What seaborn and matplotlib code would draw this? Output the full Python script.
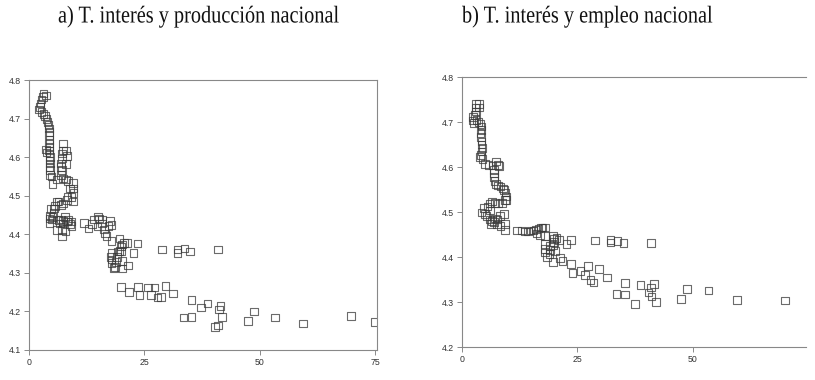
import matplotlib
matplotlib.use("Agg")
import matplotlib.pyplot as plt
import seaborn as sns
import pandas as pd
from matplotlib.patheffects import AbstractPathEffect
from matplotlib.transforms import Affine2D

# a) interest rate vs national production (log)
prod_x = [3.1, 3.7, 3.0, 2.7, 2.5, 2.4, 2.2, 2.7, 3.1, 3.5, 3.8, 4.0, 4.2,
          4.3, 4.4, 4.3, 4.4, 4.3, 4.4, 4.3, 4.4, 4.5, 4.4, 4.5, 4.4, 4.5, 4.5, 4.9,
          3.7, 3.8, 5.1, 6.1,
          7.3, 7.4, 8.0, 7.2, 8.2, 7.1, 6.9, 8.0, 6.9, 7.1, 6.9, 7.4, 8.0, 8.5,
          8.9, 9.5, 9.5, 9.6, 9.2, 9.5, 8.3, 8.2, 7.4, 6.9, 6.4, 6.0, 5.6, 5.4,
          5.3, 4.7, 4.6, 4.4, 4.9, 5.1, 4.4, 6.4, 6.7, 6.1, 7.1, 7.1, 7.9, 7.4,
          7.8, 7.4, 8.2, 8.5, 9.1, 9.2, 8.9, 6.9,
          11.9, 12.9, 13.6, 14.1, 15.0, 15.2, 14.8, 15.8, 15.8, 16.3, 16.5, 16.8,
          17.2, 17.6, 17.9, 17.9,
          17.9, 17.7, 17.9, 17.9, 18.3, 18.6, 18.9, 19.0, 19.2, 19.6, 19.9, 19.6,
          20.1, 20.6, 21.2, 19.9, 20.1, 20.2, 21.4, 22.6, 23.5,
          28.8, 32.2, 32.2, 33.7, 34.9, 40.9,
          19.9, 21.7, 23.6, 23.9, 25.8, 26.4, 27.2, 27.8, 28.6, 29.6, 31.2, 33.5,
          35.2, 35.2, 37.3, 38.7, 40.3, 41.0, 41.2, 41.5, 41.8, 47.4, 48.7, 53.3,
          59.3, 69.7, 75.0]
prod_y = [4.765, 4.760, 4.757, 4.750, 4.740, 4.730, 4.724, 4.718, 4.713, 4.707, 4.700, 4.692, 4.683,
          4.675, 4.666, 4.657, 4.645, 4.636, 4.627, 4.618, 4.610, 4.600, 4.592, 4.584, 4.575, 4.567, 4.554, 4.550,
          4.620, 4.612, 4.530, 4.542,
          4.636, 4.618, 4.618, 4.610, 4.603, 4.597, 4.584, 4.582, 4.575, 4.567, 4.554, 4.545, 4.542, 4.539,
          4.519, 4.534, 4.519, 4.508, 4.497, 4.485, 4.497, 4.489, 4.480, 4.476, 4.485, 4.485, 4.473, 4.467,
          4.456, 4.465, 4.447, 4.441, 4.439, 4.445, 4.430, 4.437, 4.428, 4.411, 4.394, 4.411, 4.407, 4.428,
          4.445, 4.435, 4.433, 4.437, 4.433, 4.422, 4.427, 4.439,
          4.430, 4.415, 4.427, 4.439, 4.446, 4.441, 4.420, 4.439, 4.428, 4.413, 4.402, 4.396,
          4.421, 4.435, 4.424, 4.383,
          4.352, 4.342, 4.335, 4.326, 4.312, 4.316, 4.329, 4.342, 4.355, 4.357, 4.368, 4.389,
          4.374, 4.378, 4.378, 4.355, 4.331, 4.311, 4.319, 4.352, 4.376,
          4.361, 4.361, 4.352, 4.363, 4.355, 4.361,
          4.264, 4.250, 4.263, 4.242, 4.262, 4.242, 4.262, 4.236, 4.238, 4.266, 4.247, 4.184,
          4.230, 4.185, 4.210, 4.221, 4.159, 4.164, 4.205, 4.214, 4.186, 4.175, 4.200, 4.184,
          4.169, 4.188, 4.173]

# b) interest rate vs national employment (log)
emp_x = [3.1, 3.7, 3.0, 3.7, 3.1, 2.9, 2.5, 2.5, 2.7, 3.2, 3.6, 4.1, 4.3, 4.3, 4.1,
         4.2, 4.3, 4.3, 4.5, 4.3, 4.2, 4.0, 4.5, 5.0, 5.8, 6.7, 7.4, 7.8, 8.1, 7.0,
         7.0, 7.0, 7.1, 7.4, 7.9, 8.4, 8.9, 9.2, 9.5, 9.6, 9.7, 9.4, 8.7, 7.9, 7.2,
         6.5, 6.0, 5.6, 4.8, 4.3, 5.0, 6.1, 5.4, 6.1, 6.5, 7.2, 7.7, 8.3, 9.2, 9.4,
         9.4, 8.4, 7.6, 7.0, 6.3,
         11.9, 13.0, 13.7, 14.4, 14.9, 15.5, 16.1, 16.6, 17.1, 17.5, 18.0, 16.2, 16.9, 18.0,
         18.0, 18.0, 18.0, 18.4, 19.0, 19.1, 19.1, 19.8, 20.0, 19.7, 20.0, 20.5, 21.1, 20.2,
         19.8, 21.3, 21.8, 22.7, 23.6, 23.6, 24.0, 25.7, 26.7, 27.3, 27.9, 28.5, 29.7, 31.4,
         28.8, 32.2, 32.2, 33.7, 35.0, 40.9,
         33.5, 35.3, 35.3, 37.5, 38.7, 40.4, 40.9, 41.1, 41.6, 42.0, 47.4, 48.8, 53.4,
         59.5, 69.9]
emp_y = [4.740, 4.740, 4.733, 4.733, 4.724, 4.716, 4.711, 4.704, 4.698, 4.705, 4.701, 4.696, 4.690, 4.683, 4.676,
         4.667, 4.657, 4.650, 4.642, 4.635, 4.627, 4.622, 4.618, 4.607, 4.605, 4.604, 4.613, 4.605, 4.603, 4.594,
         4.587, 4.578, 4.570, 4.563, 4.559, 4.557, 4.553, 4.550, 4.544, 4.535, 4.527, 4.527, 4.521, 4.519, 4.521,
         4.524, 4.519, 4.513, 4.509, 4.499, 4.496, 4.504, 4.491, 4.484, 4.480, 4.486, 4.484, 4.491, 4.496, 4.474,
         4.461, 4.470, 4.473, 4.478, 4.474,
         4.459, 4.459, 4.457, 4.457, 4.459, 4.459, 4.462, 4.464, 4.466, 4.466, 4.466, 4.453, 4.450, 4.447,
         4.430, 4.419, 4.411, 4.401, 4.407, 4.416, 4.425, 4.427, 4.434, 4.447, 4.441, 4.443, 4.439, 4.414,
         4.390, 4.399, 4.392, 4.430, 4.439, 4.385, 4.365, 4.369, 4.360, 4.380, 4.350, 4.344, 4.374, 4.355,
         4.437, 4.439, 4.433, 4.436, 4.432, 4.432,
         4.319, 4.343, 4.317, 4.296, 4.338, 4.322, 4.333, 4.313, 4.341, 4.301, 4.307, 4.330, 4.326,
         4.305, 4.304]

titles = ["a) T. interés y producción nacional", "b) T. interés y empleo nacional"]
x_ticks = [0, 25, 50, 75]
y_ticks_a = [4.1, 4.2, 4.3, 4.4, 4.5, 4.6, 4.7, 4.8]
y_ticks_b = [4.2, 4.3, 4.4, 4.5, 4.6, 4.7, 4.8]


class Squeeze(AbstractPathEffect):
    """Draw text a bit narrower, like a condensed Times."""
    def __init__(self, sx):
        super().__init__()
        self.sx = sx

    def draw_path(self, renderer, gc, tpath, affine, rgbFace=None):
        renderer.draw_path(gc, tpath, Affine2D().scale(self.sx, 1) + affine, rgbFace)


sns.set_style("white")
plt.rcParams["font.family"] = ["Liberation Sans", "DejaVu Sans"]

fig = plt.figure(figsize=(8.15, 3.8), dpi=100)
ax_a = fig.add_axes([0.0356, 0.079, 0.4270, 0.710])
ax_b = fig.add_axes([0.5665, 0.086, 0.4225, 0.711])

df_a = pd.DataFrame({"tasa": prod_x, "prod": prod_y})
df_b = pd.DataFrame({"tasa": emp_x, "emp": emp_y})

marker_kw = dict(marker="s", s=30, facecolors="none", edgecolor="#3a3a3a",
                 linewidth=0.8, alpha=0.75, legend=False)
sns.scatterplot(data=df_a, x="tasa", y="prod", ax=ax_a, **marker_kw)
sns.scatterplot(data=df_b, x="tasa", y="emp", ax=ax_b, **marker_kw)

ax_a.set_xlim(0, 75.4)
ax_a.set_ylim(4.1, 4.8)
ax_a.set_yticks(y_ticks_a)
ax_b.set_xlim(0, 74.5)
ax_b.set_ylim(4.2, 4.8)
ax_b.set_yticks(y_ticks_b)
ax_b.spines["right"].set_visible(False)

for ax in (ax_a, ax_b):
    ax.set_xticks([t for t in x_ticks if t <= ax.get_xlim()[1]])
    ax.set_xlabel("")
    ax.set_ylabel("")
    ax.yaxis.set_major_formatter(matplotlib.ticker.FormatStrFormatter("%.1f"))
    ax.tick_params(axis="both", labelsize=6.3, length=3.5, width=0.6,
                   color="#777777", labelcolor="#333333", pad=2,
                   bottom=True, left=True)
    for sp in ax.spines.values():
        sp.set_color("#888888")
        sp.set_linewidth(0.8)

title_x = [58 / 815, 462 / 815]
for tx, title in zip(title_x, titles):
    fig.text(tx, 1 - 22.5 / 380, title, ha="left", va="baseline",
             family="Liberation Serif", fontsize=17.4, color="#111111",
             path_effects=[Squeeze(0.84)])

fig.savefig("out.png", dpi=100)
